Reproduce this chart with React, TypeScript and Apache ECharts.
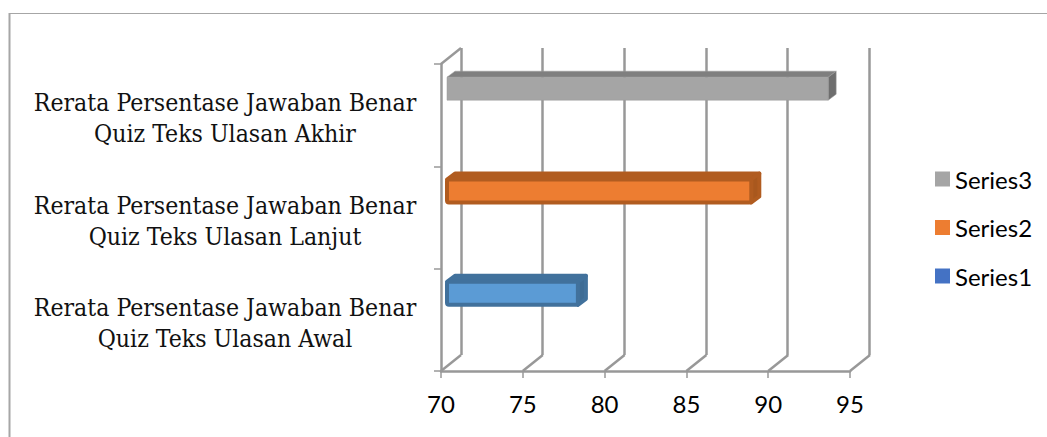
import React, { useEffect, useRef } from "react";
import * as echarts from "echarts";

const categories = [
  "Rerata Persentase Jawaban Benar\nQuiz Teks Ulasan Awal",
  "Rerata Persentase Jawaban Benar\nQuiz Teks Ulasan Lanjut",
  "Rerata Persentase Jawaban Benar\nQuiz Teks Ulasan Akhir",
];
const xTicks = [70, 75, 80, 85, 90, 95];
const series1Values = [[78, 0]];
const series2Values = [[88.6, 1]];
const series3Values = [[93.3, 2]];
const AXIS_MIN = 70;
const AXIS_MAX = 95;
const AXIS_STEP = 5;
const GREY = "#989898";
const DEPTH_X = 8;
const DEPTH_Y = -6;
const WALL_X = 20;
const WALL_Y = -16;

function bar3d(front: string, top: string, side: string, stroke: string, strokeWidth: number, r: number) {
  return (_p: any, api: any) => {
    const v = api.value(0);
    const c = api.value(1);
    const start = api.coord([AXIS_MIN, c]);
    const end = api.coord([v, c]);
    const h = 23;
    const x0 = start[0] + 6;
    const x1 = end[0] + 6;
    const y0 = start[1] - 26.5 - h / 2;
    const y1 = y0 + h;
    const st = { stroke, lineWidth: strokeWidth, lineJoin: "round" };
    return {
      type: "group",
      children: [
        {
          type: "polygon",
          shape: { points: [[x0, y0], [x0 + DEPTH_X, y0 + DEPTH_Y], [x1 + DEPTH_X, y0 + DEPTH_Y], [x1, y0]] },
          style: { fill: top, ...st },
        },
        {
          type: "polygon",
          shape: { points: [[x1, y0], [x1 + DEPTH_X, y0 + DEPTH_Y], [x1 + DEPTH_X, y1 + DEPTH_Y], [x1, y1]] },
          style: { fill: side, ...st },
        },
        {
          type: "rect",
          shape: { x: x0, y: y0, width: x1 - x0, height: h, r },
          style: { fill: front, ...st },
        },
      ],
    };
  };
}

function frameItem(_p: any, api: any) {
  const v = api.value(0);
  const bottom = api.coord([v, 0]);
  const size = api.size([0, 1]);
  const yFloor = bottom[1] + size[1] / 2;
  const line = (x: number, y: number) => ({
    type: "line",
    shape: { x1: x, y1: y, x2: x + WALL_X, y2: y + WALL_Y },
    style: { stroke: GREY, lineWidth: 2.5 },
  });
  const children: any[] = [line(bottom[0], yFloor)];
  if (v === AXIS_MIN) {
    const topY = api.coord([v, categories.length - 1])[1] - size[1] / 2;
    children.push(line(bottom[0], topY));
  }
  return { type: "group", children };
}

export default function App() {
  const ref = useRef<HTMLDivElement>(null);
  useEffect(() => {
    document.body.style.margin = "0";
    const chart = echarts.init(ref.current!, null, { renderer: "svg" });
    chart.setOption({
      animation: false,
      backgroundColor: "#ffffff",
      grid: [
        { left: 441, right: 197, top: 64, bottom: 66 },
        { left: 461, right: 178, top: 48, bottom: 82 },
        { left: 441, right: 197, top: 67, bottom: 63 },
      ],
      xAxis: [
        {
          type: "value",
          gridIndex: 0,
          min: AXIS_MIN,
          max: AXIS_MAX,
          interval: AXIS_STEP,
          splitLine: { show: false },
          axisLine: { show: true, lineStyle: { color: GREY, width: 2.5 } },
          axisTick: { show: true, length: 7, lineStyle: { color: GREY, width: 1.5 } },
          axisLabel: { color: "#000", fontFamily: "Lato", fontSize: 24, margin: 20 },
        },
        {
          type: "value",
          gridIndex: 1,
          min: AXIS_MIN,
          max: AXIS_MAX,
          interval: AXIS_STEP,
          splitLine: { show: true, lineStyle: { color: GREY, width: 2.5 } },
          axisLine: { show: false },
          axisTick: { show: false },
          axisLabel: { show: false },
        },
        {
          type: "value",
          gridIndex: 2,
          min: AXIS_MIN,
          max: AXIS_MAX,
          show: false,
        },
      ],
      yAxis: [
        {
          type: "category",
          gridIndex: 0,
          data: categories,
          axisLine: { show: true, lineStyle: { color: GREY, width: 2.5 } },
          axisTick: { show: true, length: 7, lineStyle: { color: GREY, width: 1.5 } },
          axisLabel: { show: false },
        },
        {
          type: "category",
          gridIndex: 1,
          data: categories,
          axisLine: { show: false },
          axisTick: { show: false },
          axisLabel: { show: false },
          splitLine: { show: false },
        },
        {
          type: "category",
          gridIndex: 2,
          data: categories,
          axisLine: { show: false },
          axisTick: { show: false },
          splitLine: { show: false },
          axisLabel: {
            color: "#111",
            fontFamily: "DejaVu Serif Condensed",
            fontSize: 24.6,
            lineHeight: 31,
            align: "center",
            margin: 216,
          },
        },
      ],
      legend: {
        orient: "vertical",
        left: 930,
        top: 162,
        itemWidth: 15,
        itemHeight: 15,
        itemGap: 24.5,
        icon: "rect",
        textStyle: { color: "#000", fontFamily: "Lato", fontSize: 24, lineHeight: 22 },
        data: [
          { name: "Series3", itemStyle: { color: "#A5A5A5" } },
          { name: "Series2", itemStyle: { color: "#ED7D31" } },
          { name: "Series1", itemStyle: { color: "#4472C4" } },
        ],
      },
      series: [
        {
          name: "frame",
          type: "custom",
          xAxisIndex: 0,
          yAxisIndex: 0,
          z: 1,
          silent: true,
          data: xTicks.map((t) => [t]),
          renderItem: frameItem,
        },
        {
          name: "Series1",
          type: "custom",
          xAxisIndex: 0,
          yAxisIndex: 0,
          z: 3,
          itemStyle: { color: "#4472C4" },
          data: series1Values,
          renderItem: bar3d("#5B9BD5", "#41719C", "#3E6C95", "#41719C", 4, 2),
        },
        {
          name: "Series2",
          type: "custom",
          xAxisIndex: 0,
          yAxisIndex: 0,
          z: 3,
          itemStyle: { color: "#ED7D31" },
          data: series2Values,
          renderItem: bar3d("#ED7D31", "#B15C20", "#A9581E", "#B15C20", 4, 2),
        },
        {
          name: "Series3",
          type: "custom",
          xAxisIndex: 0,
          yAxisIndex: 0,
          z: 3,
          itemStyle: { color: "#A5A5A5" },
          data: series3Values,
          renderItem: bar3d("#A5A5A5", "#7F7F7F", "#6E6E6E", "#9A9A9A", 0.5, 0),
        },
      ],
      graphic: [
        { type: "line", shape: { x1: 9, y1: 13.5, x2: 1047, y2: 13.5 }, style: { stroke: "#A6A6A6", lineWidth: 1 } },
        { type: "line", shape: { x1: 9.5, y1: 13, x2: 9.5, y2: 437 }, style: { stroke: "#A6A6A6", lineWidth: 2 } },
      ],
    });
    return () => chart.dispose();
  }, []);
  return <div ref={ref} style={{ width: 1047, height: 437, position: "absolute", left: 0, top: 0 }} />;
}
